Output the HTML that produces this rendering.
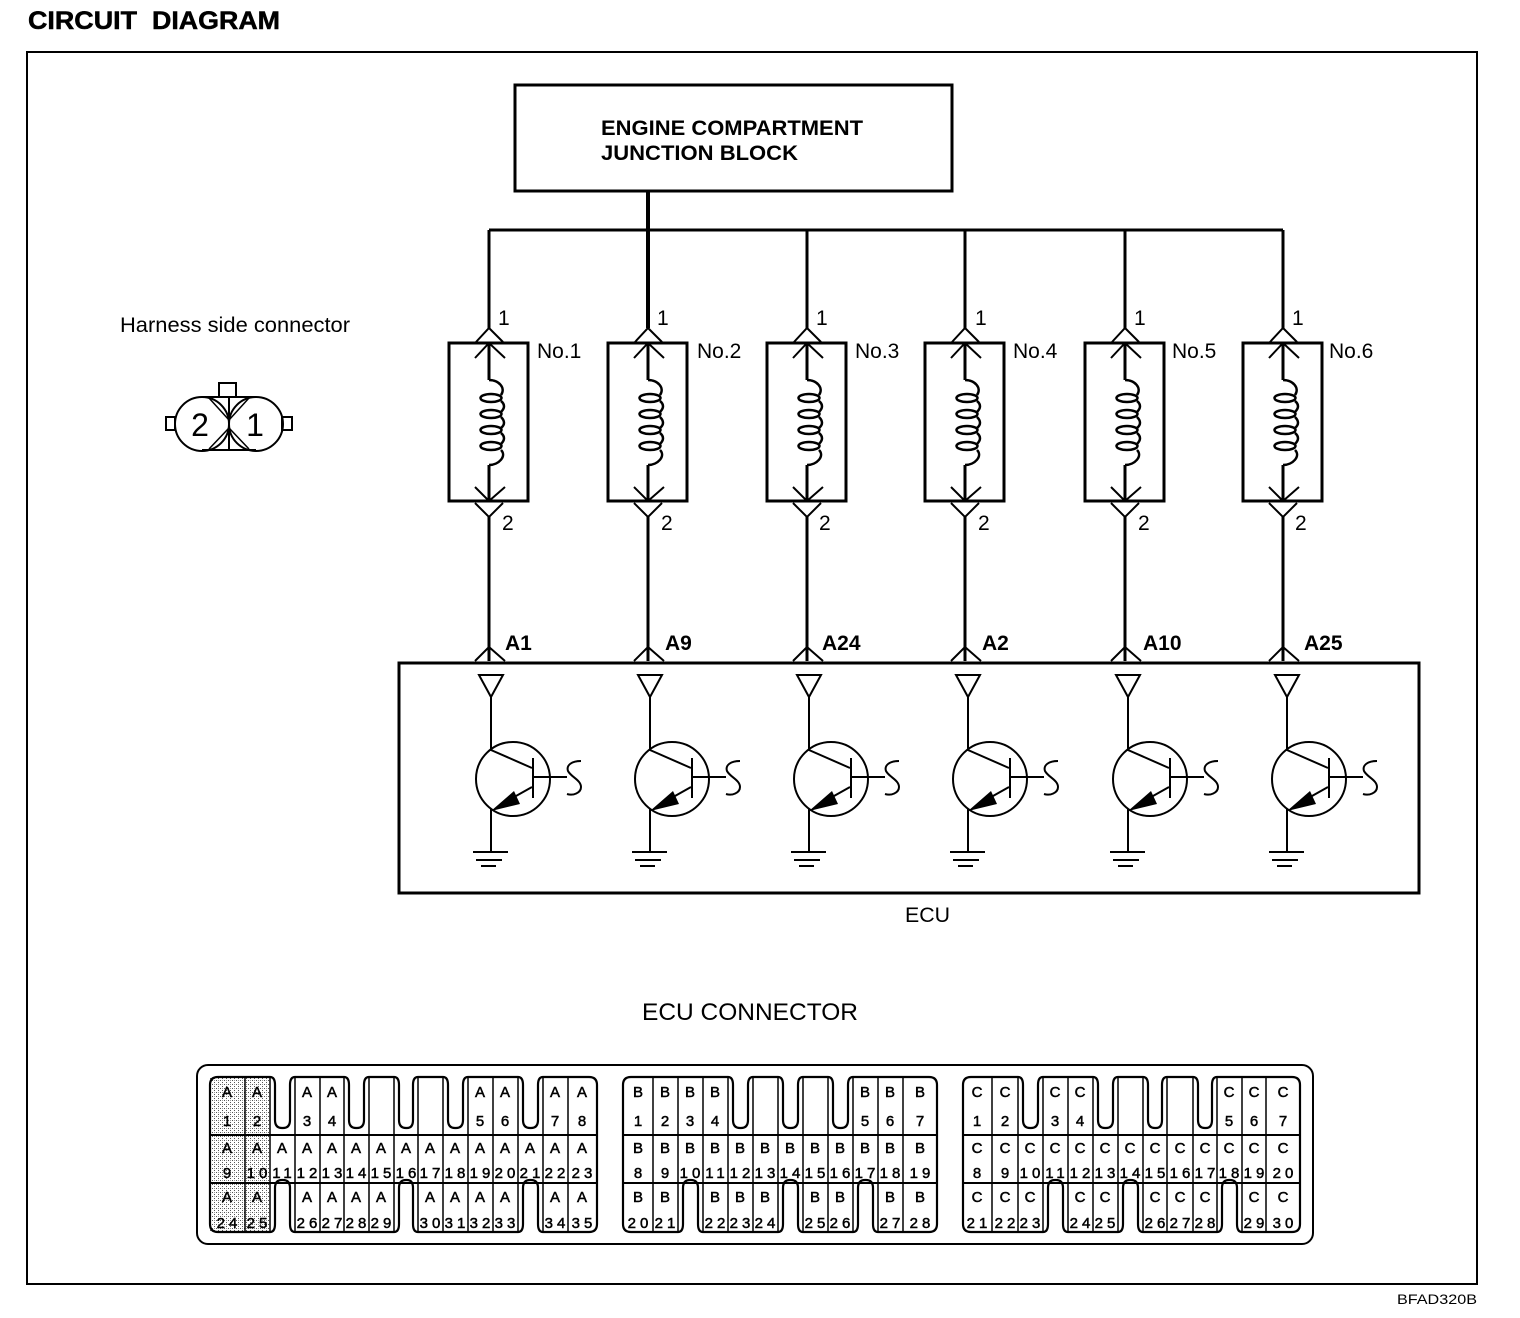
<!DOCTYPE html>
<html>
<head>
<meta charset="utf-8">
<style>
html,body{margin:0;padding:0;background:#fff}
svg{display:block}
text{font-family:"Liberation Sans",sans-serif;fill:#000}
.w{fill:none;stroke:#000;stroke-width:3}
.o{fill:none;stroke:#000;stroke-width:2.2}
.t{fill:none;stroke:#000;stroke-width:2}
.k{fill:none;stroke:#000;stroke-width:2.5}
.n{font-size:21px}
.b{font-size:21px;font-weight:bold}
.c text{font-size:15px;text-anchor:middle;letter-spacing:4px;stroke:#000;stroke-width:.5px}
</style>
</head>
<body>
<svg width="1520" height="1318" viewBox="0 0 1520 1318" xmlns="http://www.w3.org/2000/svg">
<defs>
<g id="col">
  <path class="w" d="M489 230V328M489 343V380M489 465V501M489 517V661"/>
  <path class="t" d="M476 342L489 328L503 342M475 358L489 343L505 358M475 487L489 501L505 487M475 503L489 517L503 503M475 661L489 647L505 661"/>
  <rect class="w" x="449" y="343" width="79" height="158"/>
  <path class="k" d="M489 380C499 380 506 388 501 395M501 401Q507 406 501 412M501 417Q507 423 501 428M501 433Q507 438 501 444M501 450C507 456 499 465 489 465"/>
  <ellipse class="k" cx="491" cy="398" rx="10.5" ry="4"/>
  <ellipse class="k" cx="491" cy="414" rx="10.5" ry="4"/>
  <ellipse class="k" cx="491" cy="430" rx="10.5" ry="4"/>
  <ellipse class="k" cx="491" cy="446" rx="10.5" ry="4"/>
</g>
<g id="tr">
  <path class="t" d="M479 675H503L491 697Z"/>
  <path class="t" d="M491 697V750L532 768M533 758V798M533 777H567M532 787L500 805M491 809V852"/>
  <circle class="t" cx="513" cy="779" r="37"/>
  <path d="M491 811L514 791L520 804Z" fill="#000"/>
  <path class="t" d="M581 761C572 761 566 765 568 771C571 777 581 780 581 787C581 793 573 796 567 794"/>
  <path class="t" d="M473 852H508M476 860H502M481 866H496"/>
</g>
<pattern id="dots" width="4" height="4" patternUnits="userSpaceOnUse">
  <rect width="4" height="4" fill="#fff"/>
  <rect width="1" height="1" fill="#555"/>
  <rect x="2" y="2" width="1" height="1" fill="#555"/>
  <rect x="2" y="0" width="1" height="1" fill="#999"/>
</pattern>
</defs>

<rect width="1520" height="1318" fill="#fff"/>
<text x="28" y="29" font-size="25" font-weight="bold" textLength="109" lengthAdjust="spacingAndGlyphs" stroke="#000" stroke-width=".5">CIRCUIT</text>
<text x="152" y="29" font-size="25" font-weight="bold" textLength="128" lengthAdjust="spacingAndGlyphs" stroke="#000" stroke-width=".5">DIAGRAM</text>
<rect class="t" x="27" y="52" width="1450" height="1232"/>

<rect class="w" x="515" y="85" width="437" height="106"/>
<text x="601" y="135" font-size="21" font-weight="bold" textLength="262" lengthAdjust="spacingAndGlyphs">ENGINE COMPARTMENT</text>
<text x="601" y="160" font-size="21" font-weight="bold" textLength="197" lengthAdjust="spacingAndGlyphs">JUNCTION BLOCK</text>
<path class="w" d="M489 230H1283"/>
<path fill="none" stroke="#000" stroke-width="4" d="M648 191V328"/>

<use href="#col"/>
<use href="#col" x="159"/>
<use href="#col" x="318"/>
<use href="#col" x="476"/>
<use href="#col" x="636"/>
<use href="#col" x="794"/>

<text class="n" x="498" y="325">1</text><text class="n" x="657" y="325">1</text><text class="n" x="816" y="325">1</text><text class="n" x="975" y="325">1</text><text class="n" x="1134" y="325">1</text><text class="n" x="1292" y="325">1</text>
<text class="n" x="537" y="358">No.1</text><text class="n" x="697" y="358">No.2</text><text class="n" x="855" y="358">No.3</text><text class="n" x="1013" y="358">No.4</text><text class="n" x="1172" y="358">No.5</text><text class="n" x="1329" y="358">No.6</text>
<text class="n" x="502" y="530">2</text><text class="n" x="661" y="530">2</text><text class="n" x="819" y="530">2</text><text class="n" x="978" y="530">2</text><text class="n" x="1138" y="530">2</text><text class="n" x="1295" y="530">2</text>
<text class="b" x="505" y="650">A1</text><text class="b" x="665" y="650">A9</text><text class="b" x="822" y="650">A24</text><text class="b" x="982" y="650">A2</text><text class="b" x="1143" y="650">A10</text><text class="b" x="1304" y="650">A25</text>

<rect class="w" x="399" y="663" width="1020" height="230"/>
<use href="#tr"/>
<use href="#tr" x="159"/>
<use href="#tr" x="318"/>
<use href="#tr" x="477"/>
<use href="#tr" x="637"/>
<use href="#tr" x="796"/>
<text class="n" x="905" y="922" textLength="45" lengthAdjust="spacingAndGlyphs">ECU</text>

<text class="n" x="120" y="332" textLength="230" lengthAdjust="spacingAndGlyphs">Harness side connector</text>
<rect class="t" x="219" y="383" width="17" height="14"/>
<rect class="t" x="166" y="417" width="9" height="13"/>
<rect class="t" x="282" y="417" width="10" height="13"/>
<path class="t" d="M202 397H256M202 450H256M229 397V450"/>
<path fill="none" stroke="#000" stroke-width="1.5" d="M209 398L229 420L249 398M209 449L229 428L249 449"/>
<circle class="t" cx="202" cy="424" r="27"/>
<circle class="t" cx="256" cy="424" r="27"/>
<text x="200" y="436" font-size="32" text-anchor="middle">2</text>
<text x="255" y="436" font-size="32" text-anchor="middle">1</text>

<text x="642" y="1020" font-size="24" textLength="216" lengthAdjust="spacingAndGlyphs">ECU CONNECTOR</text>
<rect class="t" x="197" y="1065" width="1116" height="179" rx="11"/>

<rect x="210" y="1077" width="60" height="155" fill="url(#dots)"/>

<!-- Block A -->
<path class="o" d="M210 1085Q210 1077 218 1077H270Q275 1077 275 1085V1120Q275 1128 282 1128H283Q290 1128 290 1120V1085Q290 1077 295 1077H344Q349 1077 349 1085V1120Q349 1128 356 1128H357Q364 1128 364 1120V1085Q364 1077 369 1077H394Q399 1077 399 1085V1120Q399 1128 406 1128H407Q413 1128 413 1120V1085Q413 1077 418 1077H443Q448 1077 448 1085V1120Q448 1128 455 1128H456Q463 1128 463 1120V1085Q463 1077 468 1077H518Q523 1077 523 1085V1120Q523 1128 530 1128H531Q538 1128 538 1120V1085Q538 1077 543 1077H589Q597 1077 597 1085V1224Q597 1232 589 1232H543Q538 1232 538 1224V1188Q538 1180 531 1180H530Q523 1180 523 1188V1224Q523 1232 518 1232H418Q413 1232 413 1224V1188Q413 1180 407 1180H406Q399 1180 399 1188V1224Q399 1232 394 1232H295Q290 1232 290 1224V1188Q290 1180 283 1180H282Q275 1180 275 1188V1224Q275 1232 270 1232H218Q210 1232 210 1224Z"/>
<path class="t" d="M210 1135H597M210 1183H597"/>
<path fill="none" stroke="#000" stroke-width="1.5" d="M245 1077V1232M270 1077V1232M295 1077V1232M320 1077V1232M344 1077V1232M369 1077V1232M394 1077V1232M418 1077V1232M443 1077V1232M468 1077V1232M493 1077V1232M518 1077V1232M543 1077V1232M568 1077V1232"/>

<!-- Block B -->
<path class="o" d="M623 1085Q623 1077 631 1077H728Q733 1077 733 1085V1120Q733 1128 740 1128H741Q748 1128 748 1120V1085Q748 1077 753 1077H778Q783 1077 783 1085V1120Q783 1128 790 1128H791Q798 1128 798 1120V1085Q798 1077 803 1077H828Q833 1077 833 1085V1120Q833 1128 840 1128H841Q848 1128 848 1120V1085Q848 1077 853 1077H929Q937 1077 937 1085V1224Q937 1232 929 1232H878Q873 1232 873 1224V1188Q873 1180 866 1180H865Q858 1180 858 1188V1224Q858 1232 853 1232H803Q798 1232 798 1224V1188Q798 1180 791 1180H790Q783 1180 783 1188V1224Q783 1232 778 1232H703Q698 1232 698 1224V1188Q698 1180 691 1180H690Q683 1180 683 1188V1224Q683 1232 678 1232H631Q623 1232 623 1224Z"/>
<path class="t" d="M623 1135H937M623 1183H937"/>
<path fill="none" stroke="#000" stroke-width="1.5" d="M653 1077V1232M678 1077V1232M703 1077V1232M728 1077V1232M753 1077V1232M778 1077V1232M803 1077V1232M828 1077V1232M853 1077V1232M878 1077V1232M903 1077V1232"/>

<!-- Block C -->
<path class="o" d="M963 1085Q963 1077 971 1077H1018Q1023 1077 1023 1085V1120Q1023 1128 1030 1128H1031Q1038 1128 1038 1120V1085Q1038 1077 1043 1077H1093Q1098 1077 1098 1085V1120Q1098 1128 1105 1128H1106Q1113 1128 1113 1120V1085Q1113 1077 1118 1077H1143Q1148 1077 1148 1085V1120Q1148 1128 1155 1128H1156Q1162 1128 1162 1120V1085Q1162 1077 1167 1077H1193Q1198 1077 1198 1085V1120Q1198 1128 1205 1128H1206Q1212 1128 1212 1120V1085Q1212 1077 1217 1077H1292Q1300 1077 1300 1085V1224Q1300 1232 1292 1232H1242Q1237 1232 1237 1224V1188Q1237 1180 1230 1180H1229Q1222 1180 1222 1188V1224Q1222 1232 1217 1232H1143Q1138 1232 1138 1224V1188Q1138 1180 1131 1180H1130Q1123 1180 1123 1188V1224Q1123 1232 1118 1232H1068Q1063 1232 1063 1224V1188Q1063 1180 1056 1180H1055Q1048 1180 1048 1188V1224Q1048 1232 1043 1232H971Q963 1232 963 1224Z"/>
<path class="t" d="M963 1135H1300M963 1183H1300"/>
<path fill="none" stroke="#000" stroke-width="1.5" d="M992 1077V1232M1018 1077V1232M1043 1077V1232M1068 1077V1232M1093 1077V1232M1118 1077V1232M1143 1077V1232M1167 1077V1232M1193 1077V1232M1217 1077V1232M1242 1077V1232M1266 1077V1232"/>

<g class="c" transform="translate(2,0)">
<!-- A letters -->
<text x="227" y="1097">A</text><text x="257" y="1097">A</text><text x="307" y="1097">A</text><text x="332" y="1097">A</text><text x="480" y="1097">A</text><text x="505" y="1097">A</text><text x="555" y="1097">A</text><text x="582" y="1097">A</text>
<text x="227" y="1126">1</text><text x="257" y="1126">2</text><text x="307" y="1126">3</text><text x="332" y="1126">4</text><text x="480" y="1126">5</text><text x="505" y="1126">6</text><text x="555" y="1126">7</text><text x="582" y="1126">8</text>
<text x="227" y="1153">A</text><text x="257" y="1153">A</text><text x="282" y="1153">A</text><text x="307" y="1153">A</text><text x="332" y="1153">A</text><text x="356" y="1153">A</text><text x="381" y="1153">A</text><text x="406" y="1153">A</text><text x="430" y="1153">A</text><text x="455" y="1153">A</text><text x="480" y="1153">A</text><text x="505" y="1153">A</text><text x="530" y="1153">A</text><text x="555" y="1153">A</text><text x="582" y="1153">A</text>
<text x="227" y="1178">9</text><text x="257" y="1178">10</text><text x="282" y="1178">11</text><text x="307" y="1178">12</text><text x="332" y="1178">13</text><text x="356" y="1178">14</text><text x="381" y="1178">15</text><text x="406" y="1178">16</text><text x="430" y="1178">17</text><text x="455" y="1178">18</text><text x="480" y="1178">19</text><text x="505" y="1178">20</text><text x="530" y="1178">21</text><text x="555" y="1178">22</text><text x="582" y="1178">23</text>
<text x="227" y="1202">A</text><text x="257" y="1202">A</text><text x="307" y="1202">A</text><text x="332" y="1202">A</text><text x="356" y="1202">A</text><text x="381" y="1202">A</text><text x="430" y="1202">A</text><text x="455" y="1202">A</text><text x="480" y="1202">A</text><text x="505" y="1202">A</text><text x="555" y="1202">A</text><text x="582" y="1202">A</text>
<text x="227" y="1228">24</text><text x="257" y="1228">25</text><text x="307" y="1228">26</text><text x="332" y="1228">27</text><text x="356" y="1228">28</text><text x="381" y="1228">29</text><text x="430" y="1228">30</text><text x="455" y="1228">31</text><text x="480" y="1228">32</text><text x="505" y="1228">33</text><text x="555" y="1228">34</text><text x="582" y="1228">35</text>

<!-- B -->
<text x="638" y="1097">B</text><text x="665" y="1097">B</text><text x="690" y="1097">B</text><text x="715" y="1097">B</text><text x="865" y="1097">B</text><text x="890" y="1097">B</text><text x="920" y="1097">B</text>
<text x="638" y="1126">1</text><text x="665" y="1126">2</text><text x="690" y="1126">3</text><text x="715" y="1126">4</text><text x="865" y="1126">5</text><text x="890" y="1126">6</text><text x="920" y="1126">7</text>
<text x="638" y="1153">B</text><text x="665" y="1153">B</text><text x="690" y="1153">B</text><text x="715" y="1153">B</text><text x="740" y="1153">B</text><text x="765" y="1153">B</text><text x="790" y="1153">B</text><text x="815" y="1153">B</text><text x="840" y="1153">B</text><text x="865" y="1153">B</text><text x="890" y="1153">B</text><text x="920" y="1153">B</text>
<text x="638" y="1178">8</text><text x="665" y="1178">9</text><text x="690" y="1178">10</text><text x="715" y="1178">11</text><text x="740" y="1178">12</text><text x="765" y="1178">13</text><text x="790" y="1178">14</text><text x="815" y="1178">15</text><text x="840" y="1178">16</text><text x="865" y="1178">17</text><text x="890" y="1178">18</text><text x="920" y="1178">19</text>
<text x="638" y="1202">B</text><text x="665" y="1202">B</text><text x="715" y="1202">B</text><text x="740" y="1202">B</text><text x="765" y="1202">B</text><text x="815" y="1202">B</text><text x="840" y="1202">B</text><text x="890" y="1202">B</text><text x="920" y="1202">B</text>
<text x="638" y="1228">20</text><text x="665" y="1228">21</text><text x="715" y="1228">22</text><text x="740" y="1228">23</text><text x="765" y="1228">24</text><text x="815" y="1228">25</text><text x="840" y="1228">26</text><text x="890" y="1228">27</text><text x="920" y="1228">28</text>

<!-- C -->
<text x="977" y="1097">C</text><text x="1005" y="1097">C</text><text x="1055" y="1097">C</text><text x="1080" y="1097">C</text><text x="1229" y="1097">C</text><text x="1254" y="1097">C</text><text x="1283" y="1097">C</text>
<text x="977" y="1126">1</text><text x="1005" y="1126">2</text><text x="1055" y="1126">3</text><text x="1080" y="1126">4</text><text x="1229" y="1126">5</text><text x="1254" y="1126">6</text><text x="1283" y="1126">7</text>
<text x="977" y="1153">C</text><text x="1005" y="1153">C</text><text x="1030" y="1153">C</text><text x="1055" y="1153">C</text><text x="1080" y="1153">C</text><text x="1105" y="1153">C</text><text x="1130" y="1153">C</text><text x="1155" y="1153">C</text><text x="1180" y="1153">C</text><text x="1205" y="1153">C</text><text x="1229" y="1153">C</text><text x="1254" y="1153">C</text><text x="1283" y="1153">C</text>
<text x="977" y="1178">8</text><text x="1005" y="1178">9</text><text x="1030" y="1178">10</text><text x="1055" y="1178">11</text><text x="1080" y="1178">12</text><text x="1105" y="1178">13</text><text x="1130" y="1178">14</text><text x="1155" y="1178">15</text><text x="1180" y="1178">16</text><text x="1205" y="1178">17</text><text x="1229" y="1178">18</text><text x="1254" y="1178">19</text><text x="1283" y="1178">20</text>
<text x="977" y="1202">C</text><text x="1005" y="1202">C</text><text x="1030" y="1202">C</text><text x="1080" y="1202">C</text><text x="1105" y="1202">C</text><text x="1155" y="1202">C</text><text x="1180" y="1202">C</text><text x="1205" y="1202">C</text><text x="1254" y="1202">C</text><text x="1283" y="1202">C</text>
<text x="977" y="1228">21</text><text x="1005" y="1228">22</text><text x="1030" y="1228">23</text><text x="1080" y="1228">24</text><text x="1105" y="1228">25</text><text x="1155" y="1228">26</text><text x="1180" y="1228">27</text><text x="1205" y="1228">28</text><text x="1254" y="1228">29</text><text x="1283" y="1228">30</text>
</g>

<text x="1397" y="1304" font-size="14" textLength="80" lengthAdjust="spacingAndGlyphs">BFAD320B</text>
</svg>
</body>
</html>
